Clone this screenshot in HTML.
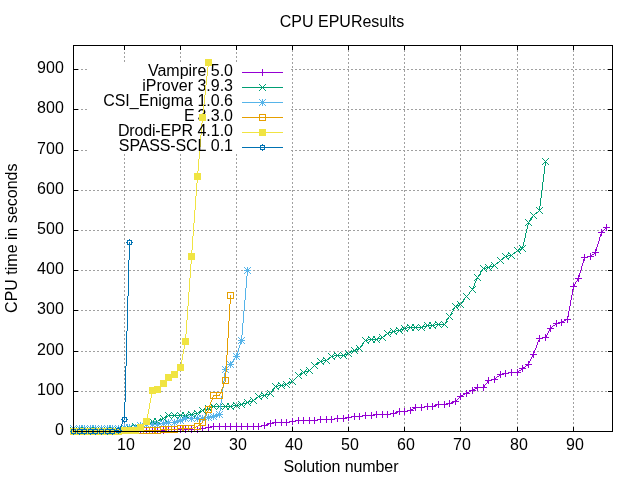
<!DOCTYPE html><html><head><meta charset="utf-8"><title>CPU EPUResults</title><style>html,body{margin:0;padding:0;background:#fff}svg{display:block;will-change:transform}text{font-family:"Liberation Sans",sans-serif;font-size:16px;fill:#000}</style></head><body>
<svg width="640" height="480" viewBox="0 0 640 480">
<rect width="640" height="480" fill="#fff"/>
<g stroke="#a0a0a0" stroke-width="1" stroke-dasharray="2 2" shape-rendering="crispEdges" fill="none">
<path d="M124.5 432V153"/><path d="M124.5 62V46"/>
<path d="M180.5 432V153"/><path d="M180.5 62V46"/>
<path d="M236.5 432V153"/><path d="M236.5 62V46"/>
<path d="M292.5 432V46"/>
<path d="M348.5 432V46"/>
<path d="M404.5 432V46"/>
<path d="M460.5 432V46"/>
<path d="M517.5 432V46"/>
<path d="M573.5 432V46"/>
<path d="M73 391.5H612"/>
<path d="M73 351.5H612"/>
<path d="M73 310.5H612"/>
<path d="M73 270.5H612"/>
<path d="M73 230.5H612"/>
<path d="M73 190.5H612"/>
<path d="M73 150.5H88"/><path d="M291 150.5H612"/>
<path d="M73 109.5H88"/><path d="M291 109.5H612"/>
<path d="M73 69.5H88"/><path d="M291 69.5H612"/>
</g>
<g stroke="#000" stroke-width="1" shape-rendering="crispEdges" fill="none">
<path d="M124.5 431v-4M124.5 46v4"/>
<path d="M180.5 431v-4M180.5 46v4"/>
<path d="M236.5 431v-4M236.5 46v4"/>
<path d="M292.5 431v-4M292.5 46v4"/>
<path d="M348.5 431v-4M348.5 46v4"/>
<path d="M404.5 431v-4M404.5 46v4"/>
<path d="M460.5 431v-4M460.5 46v4"/>
<path d="M517.5 431v-4M517.5 46v4"/>
<path d="M573.5 431v-4M573.5 46v4"/>
<path d="M74 431.5h4M612 431.5h-4"/>
<path d="M74 391.5h4M612 391.5h-4"/>
<path d="M74 351.5h4M612 351.5h-4"/>
<path d="M74 310.5h4M612 310.5h-4"/>
<path d="M74 270.5h4M612 270.5h-4"/>
<path d="M74 230.5h4M612 230.5h-4"/>
<path d="M74 190.5h4M612 190.5h-4"/>
<path d="M74 150.5h4M612 150.5h-4"/>
<path d="M74 109.5h4M612 109.5h-4"/>
<path d="M74 69.5h4M612 69.5h-4"/>
</g>
<g shape-rendering="crispEdges" fill="none" stroke-width="1">
<path d="M73 431.5h7M79 431.5h6M84 431.5h7M90 431.5h6M95 431.5h7M101 431.5h7M107 431.5h6M112 431.5h7M121 430.5h4M118 431.5h3M124 430.5h6M129 430.5h7M135 430.5h6M140 430.5h7M146 430.5h7M152 430.5h6M157 430.5h7M166 429.5h3M163 430.5h3M168 429.5h7M174 429.5h7M180 429.5h6M185 429.5h7M191 429.5h7M200 428.5h3M197 429.5h3M205 427.5h4M202 428.5h3M211 426.5h3M208 427.5h3M213 426.5h7M219 426.5h7M225 426.5h6M230 426.5h7M236 426.5h6M241 426.5h7M247 426.5h7M253 426.5h6M261 425.5h4M258 426.5h3M269 423.5h2M266 424.5h3M264 425.5h2M273 422.5h3M270 423.5h3M275 422.5h7M281 422.5h6M289 421.5h4M286 422.5h3M295 420.5h4M292 421.5h3M298 420.5h6M303 420.5h7M309 420.5h6M317 419.5h4M314 420.5h3M320 419.5h7M326 419.5h6M334 418.5h4M331 419.5h3M337 418.5h7M346 417.5h3M343 418.5h3M351 416.5h4M348 417.5h3M354 416.5h6M362 415.5h4M359 416.5h3M365 415.5h7M374 414.5h3M371 415.5h3M376 414.5h7M382 414.5h6M390 413.5h4M387 414.5h3M398 411.5h2M395 412.5h3M393 413.5h2M399 411.5h6M407 410.5h4M404 411.5h3M415 407.5h1M413 408.5h2M411 409.5h2M410 410.5h1M415 407.5h7M424 406.5h4M421 407.5h3M427 406.5h6M437 404.5h2M434 405.5h3M432 406.5h2M438 404.5h7M447 403.5h3M444 404.5h3M454 401.5h2M451 402.5h3M449 403.5h2M460 396.5h1M459 397.5h1M458 398.5h1M457 399.5h1M456 400.5h1M455 401.5h1M465 393.5h2M463 394.5h2M461 395.5h2M460 396.5h1M471 390.5h2M469 391.5h2M467 392.5h2M466 393.5h1M477 387.5h1M475 388.5h2M473 389.5h2M472 390.5h1M477 387.5h7M483.5 387v1M484.5 385v2M485.5 384v1M486.5 383v1M487.5 381v2M488.5 380v1M491 379.5h4M488 380.5h3M500 374.5h1M499 375.5h1M497 376.5h2M496 377.5h1M495 378.5h1M494 379.5h1M503 373.5h3M500 374.5h3M508 372.5h4M505 373.5h3M511 372.5h7M522 368.5h1M521 369.5h1M519 370.5h2M518 371.5h1M517 372.5h1M528 364.5h1M526 365.5h2M525 366.5h1M523 367.5h2M522 368.5h1M528.5 363v2M529.5 361v2M530.5 359v2M531.5 357v2M532.5 355v2M533.5 354v1M533.5 353v2M534.5 350v3M535.5 348v2M536.5 345v3M537.5 342v3M538.5 340v2M539.5 338v2M542 337.5h4M539 338.5h3M545.5 337v1M546.5 335v2M547.5 333v2M548.5 331v2M549.5 329v2M550.5 328v1M556 323.5h1M555 324.5h1M553 325.5h2M552 326.5h1M551 327.5h1M550 328.5h1M559 322.5h3M556 323.5h3M566 319.5h2M564 320.5h2M562 321.5h2M561 322.5h1M567.5 317v3M568.5 311v6M569.5 306v5M570.5 300v6M571.5 295v5M572.5 289v6M573.5 286v3M573.5 286v1M574.5 284v2M575.5 282v2M576.5 281v1M577.5 279v2M578.5 278v1M578.5 277v2M579.5 273v4M580.5 270v3M581.5 266v4M582.5 263v3M583.5 259v4M584.5 257v2M587 256.5h4M584 257.5h3M595 252.5h1M594 253.5h1M592 254.5h2M591 255.5h1M590 256.5h1M595.5 251v2M596.5 247v4M597.5 244v3M598.5 241v3M599.5 237v4M600.5 234v3M601.5 232v2M606 227.5h1M605 228.5h1M604 229.5h1M603 230.5h1M602 231.5h1M601 232.5h1" stroke="#9400D3"/>
<path d="M70.0 431.5H77.0M73.5 428.0V435.0" stroke="#9400D3"/>
<path d="M76.0 431.5H83.0M79.5 428.0V435.0" stroke="#9400D3"/>
<path d="M81.0 431.5H88.0M84.5 428.0V435.0" stroke="#9400D3"/>
<path d="M87.0 431.5H94.0M90.5 428.0V435.0" stroke="#9400D3"/>
<path d="M92.0 431.5H99.0M95.5 428.0V435.0" stroke="#9400D3"/>
<path d="M98.0 431.5H105.0M101.5 428.0V435.0" stroke="#9400D3"/>
<path d="M104.0 431.5H111.0M107.5 428.0V435.0" stroke="#9400D3"/>
<path d="M109.0 431.5H116.0M112.5 428.0V435.0" stroke="#9400D3"/>
<path d="M115.0 431.5H122.0M118.5 428.0V435.0" stroke="#9400D3"/>
<path d="M121.0 430.5H128.0M124.5 427.0V434.0" stroke="#9400D3"/>
<path d="M126.0 430.5H133.0M129.5 427.0V434.0" stroke="#9400D3"/>
<path d="M132.0 430.5H139.0M135.5 427.0V434.0" stroke="#9400D3"/>
<path d="M137.0 430.5H144.0M140.5 427.0V434.0" stroke="#9400D3"/>
<path d="M143.0 430.5H150.0M146.5 427.0V434.0" stroke="#9400D3"/>
<path d="M149.0 430.5H156.0M152.5 427.0V434.0" stroke="#9400D3"/>
<path d="M154.0 430.5H161.0M157.5 427.0V434.0" stroke="#9400D3"/>
<path d="M160.0 430.5H167.0M163.5 427.0V434.0" stroke="#9400D3"/>
<path d="M165.0 429.5H172.0M168.5 426.0V433.0" stroke="#9400D3"/>
<path d="M171.0 429.5H178.0M174.5 426.0V433.0" stroke="#9400D3"/>
<path d="M177.0 429.5H184.0M180.5 426.0V433.0" stroke="#9400D3"/>
<path d="M182.0 429.5H189.0M185.5 426.0V433.0" stroke="#9400D3"/>
<path d="M188.0 429.5H195.0M191.5 426.0V433.0" stroke="#9400D3"/>
<path d="M194.0 429.5H201.0M197.5 426.0V433.0" stroke="#9400D3"/>
<path d="M199.0 428.5H206.0M202.5 425.0V432.0" stroke="#9400D3"/>
<path d="M205.0 427.5H212.0M208.5 424.0V431.0" stroke="#9400D3"/>
<path d="M210.0 426.5H217.0M213.5 423.0V430.0" stroke="#9400D3"/>
<path d="M216.0 426.5H223.0M219.5 423.0V430.0" stroke="#9400D3"/>
<path d="M222.0 426.5H229.0M225.5 423.0V430.0" stroke="#9400D3"/>
<path d="M227.0 426.5H234.0M230.5 423.0V430.0" stroke="#9400D3"/>
<path d="M233.0 426.5H240.0M236.5 423.0V430.0" stroke="#9400D3"/>
<path d="M238.0 426.5H245.0M241.5 423.0V430.0" stroke="#9400D3"/>
<path d="M244.0 426.5H251.0M247.5 423.0V430.0" stroke="#9400D3"/>
<path d="M250.0 426.5H257.0M253.5 423.0V430.0" stroke="#9400D3"/>
<path d="M255.0 426.5H262.0M258.5 423.0V430.0" stroke="#9400D3"/>
<path d="M261.0 425.5H268.0M264.5 422.0V429.0" stroke="#9400D3"/>
<path d="M267.0 423.5H274.0M270.5 420.0V427.0" stroke="#9400D3"/>
<path d="M272.0 422.5H279.0M275.5 419.0V426.0" stroke="#9400D3"/>
<path d="M278.0 422.5H285.0M281.5 419.0V426.0" stroke="#9400D3"/>
<path d="M283.0 422.5H290.0M286.5 419.0V426.0" stroke="#9400D3"/>
<path d="M289.0 421.5H296.0M292.5 418.0V425.0" stroke="#9400D3"/>
<path d="M295.0 420.5H302.0M298.5 417.0V424.0" stroke="#9400D3"/>
<path d="M300.0 420.5H307.0M303.5 417.0V424.0" stroke="#9400D3"/>
<path d="M306.0 420.5H313.0M309.5 417.0V424.0" stroke="#9400D3"/>
<path d="M311.0 420.5H318.0M314.5 417.0V424.0" stroke="#9400D3"/>
<path d="M317.0 419.5H324.0M320.5 416.0V423.0" stroke="#9400D3"/>
<path d="M323.0 419.5H330.0M326.5 416.0V423.0" stroke="#9400D3"/>
<path d="M328.0 419.5H335.0M331.5 416.0V423.0" stroke="#9400D3"/>
<path d="M334.0 418.5H341.0M337.5 415.0V422.0" stroke="#9400D3"/>
<path d="M340.0 418.5H347.0M343.5 415.0V422.0" stroke="#9400D3"/>
<path d="M345.0 417.5H352.0M348.5 414.0V421.0" stroke="#9400D3"/>
<path d="M351.0 416.5H358.0M354.5 413.0V420.0" stroke="#9400D3"/>
<path d="M356.0 416.5H363.0M359.5 413.0V420.0" stroke="#9400D3"/>
<path d="M362.0 415.5H369.0M365.5 412.0V419.0" stroke="#9400D3"/>
<path d="M368.0 415.5H375.0M371.5 412.0V419.0" stroke="#9400D3"/>
<path d="M373.0 414.5H380.0M376.5 411.0V418.0" stroke="#9400D3"/>
<path d="M379.0 414.5H386.0M382.5 411.0V418.0" stroke="#9400D3"/>
<path d="M384.0 414.5H391.0M387.5 411.0V418.0" stroke="#9400D3"/>
<path d="M390.0 413.5H397.0M393.5 410.0V417.0" stroke="#9400D3"/>
<path d="M396.0 411.5H403.0M399.5 408.0V415.0" stroke="#9400D3"/>
<path d="M401.0 411.5H408.0M404.5 408.0V415.0" stroke="#9400D3"/>
<path d="M407.0 410.5H414.0M410.5 407.0V414.0" stroke="#9400D3"/>
<path d="M412.0 407.5H419.0M415.5 404.0V411.0" stroke="#9400D3"/>
<path d="M418.0 407.5H425.0M421.5 404.0V411.0" stroke="#9400D3"/>
<path d="M424.0 406.5H431.0M427.5 403.0V410.0" stroke="#9400D3"/>
<path d="M429.0 406.5H436.0M432.5 403.0V410.0" stroke="#9400D3"/>
<path d="M435.0 404.5H442.0M438.5 401.0V408.0" stroke="#9400D3"/>
<path d="M441.0 404.5H448.0M444.5 401.0V408.0" stroke="#9400D3"/>
<path d="M446.0 403.5H453.0M449.5 400.0V407.0" stroke="#9400D3"/>
<path d="M452.0 401.5H459.0M455.5 398.0V405.0" stroke="#9400D3"/>
<path d="M457.0 396.5H464.0M460.5 393.0V400.0" stroke="#9400D3"/>
<path d="M463.0 393.5H470.0M466.5 390.0V397.0" stroke="#9400D3"/>
<path d="M469.0 390.5H476.0M472.5 387.0V394.0" stroke="#9400D3"/>
<path d="M474.0 387.5H481.0M477.5 384.0V391.0" stroke="#9400D3"/>
<path d="M480.0 387.5H487.0M483.5 384.0V391.0" stroke="#9400D3"/>
<path d="M485.0 380.5H492.0M488.5 377.0V384.0" stroke="#9400D3"/>
<path d="M491.0 379.5H498.0M494.5 376.0V383.0" stroke="#9400D3"/>
<path d="M497.0 374.5H504.0M500.5 371.0V378.0" stroke="#9400D3"/>
<path d="M502.0 373.5H509.0M505.5 370.0V377.0" stroke="#9400D3"/>
<path d="M508.0 372.5H515.0M511.5 369.0V376.0" stroke="#9400D3"/>
<path d="M514.0 372.5H521.0M517.5 369.0V376.0" stroke="#9400D3"/>
<path d="M519.0 368.5H526.0M522.5 365.0V372.0" stroke="#9400D3"/>
<path d="M525.0 364.5H532.0M528.5 361.0V368.0" stroke="#9400D3"/>
<path d="M530.0 354.5H537.0M533.5 351.0V358.0" stroke="#9400D3"/>
<path d="M536.0 338.5H543.0M539.5 335.0V342.0" stroke="#9400D3"/>
<path d="M542.0 337.5H549.0M545.5 334.0V341.0" stroke="#9400D3"/>
<path d="M547.0 328.5H554.0M550.5 325.0V332.0" stroke="#9400D3"/>
<path d="M553.0 323.5H560.0M556.5 320.0V327.0" stroke="#9400D3"/>
<path d="M558.0 322.5H565.0M561.5 319.0V326.0" stroke="#9400D3"/>
<path d="M564.0 319.5H571.0M567.5 316.0V323.0" stroke="#9400D3"/>
<path d="M570.0 286.5H577.0M573.5 283.0V290.0" stroke="#9400D3"/>
<path d="M575.0 278.5H582.0M578.5 275.0V282.0" stroke="#9400D3"/>
<path d="M581.0 257.5H588.0M584.5 254.0V261.0" stroke="#9400D3"/>
<path d="M587.0 256.5H594.0M590.5 253.0V260.0" stroke="#9400D3"/>
<path d="M592.0 252.5H599.0M595.5 249.0V256.0" stroke="#9400D3"/>
<path d="M598.0 232.5H605.0M601.5 229.0V236.0" stroke="#9400D3"/>
<path d="M603.0 227.5H610.0M606.5 224.0V231.0" stroke="#9400D3"/>
<path d="M242 72.5H283" stroke="#9400D3"/>
<path d="M259.0 72.5H266.0M262.5 69.0V76.0" stroke="#9400D3"/>
</g>
<text x="233" y="76.0" text-anchor="end"><tspan letter-spacing="0">Vampire</tspan><tspan dx="0"> 5.0</tspan></text>
<g shape-rendering="crispEdges" fill="none" stroke-width="1">
<path d="M73 430.5h7M79 430.5h6M84 430.5h7M90 430.5h6M95 430.5h7M101 430.5h7M107 430.5h6M112 430.5h7M121 429.5h4M118 430.5h3M127 428.5h3M124 429.5h3M134 426.5h2M131 427.5h3M129 428.5h2M138 425.5h3M135 426.5h3M143 424.5h4M140 425.5h3M151 421.5h2M149 422.5h2M147 423.5h2M146 424.5h1M152 421.5h6M162 418.5h2M160 419.5h2M158 420.5h2M157 421.5h1M168 415.5h1M166 416.5h2M164 417.5h2M163 418.5h1M168 415.5h7M174 415.5h7M180 415.5h6M188 414.5h4M185 415.5h3M194 413.5h4M191 414.5h3M202 410.5h1M200 411.5h2M198 412.5h2M197 413.5h1M207 408.5h2M204 409.5h3M202 410.5h2M212 406.5h2M210 407.5h2M208 408.5h2M213 406.5h7M219 406.5h7M225 406.5h6M233 405.5h4M230 406.5h3M239 404.5h3M236 405.5h3M246 402.5h2M243 403.5h3M241 404.5h2M252 400.5h2M249 401.5h3M247 402.5h2M258 396.5h1M257 397.5h1M255 398.5h2M254 399.5h1M253 400.5h1M261 395.5h4M258 396.5h3M269 393.5h2M266 394.5h3M264 395.5h2M270.5 393v1M271.5 391v2M272.5 390v1M273.5 389v1M274.5 387v2M275.5 386v1M278 385.5h4M275 386.5h3M284 384.5h3M281 385.5h3M291 381.5h2M289 382.5h2M287 383.5h2M286 384.5h1M298 375.5h1M297 376.5h1M296 377.5h1M295 378.5h1M294 379.5h1M293 380.5h1M292 381.5h1M303 372.5h1M301 373.5h2M299 374.5h2M298 375.5h1M308 370.5h2M305 371.5h3M303 372.5h2M314 365.5h1M313 366.5h1M312 367.5h1M311 368.5h1M310 369.5h1M309 370.5h1M320 361.5h1M318 362.5h2M317 363.5h1M315 364.5h2M314 365.5h1M323 360.5h4M320 361.5h3M331 356.5h1M330 357.5h1M328 358.5h2M327 359.5h1M326 360.5h1M334 355.5h4M331 356.5h3M337 355.5h7M347 353.5h2M345 354.5h2M343 355.5h2M353 350.5h2M351 351.5h2M349 352.5h2M348 353.5h1M358 348.5h2M356 349.5h2M354 350.5h2M359.5 348v1M360.5 346v2M361.5 345v1M362.5 344v1M363.5 342v2M364.5 341v1M365.5 340v1M368 339.5h4M365 340.5h3M371 339.5h6M381 337.5h2M378 338.5h3M376 339.5h2M387 333.5h1M386 334.5h1M384 335.5h2M383 336.5h1M382 337.5h1M392 331.5h2M389 332.5h3M387 333.5h2M396 330.5h4M393 331.5h3M403 328.5h2M401 329.5h2M399 330.5h2M407 327.5h4M404 328.5h3M410 327.5h6M415 327.5h7M426 325.5h2M423 326.5h3M421 327.5h2M427 325.5h6M435 324.5h4M432 325.5h3M438 324.5h7M444.5 324v1M445.5 322v2M446.5 320v2M447.5 319v1M448.5 317v2M449.5 316v1M449.5 316v1M450.5 314v2M451.5 312v2M452.5 311v1M453.5 309v2M454.5 307v2M455.5 306v1M459 304.5h2M457 305.5h2M455 306.5h2M460.5 304v1M461.5 302v2M462.5 301v1M463.5 300v1M464.5 298v2M465.5 297v1M466.5 296v1M466.5 296v1M467.5 295v1M468.5 294v1M469.5 292v2M470.5 291v1M471.5 290v1M472.5 289v1M472.5 288v2M473.5 286v2M474.5 283v3M475.5 281v2M476.5 279v2M477.5 277v2M477.5 277v1M478.5 275v2M479.5 274v1M480.5 272v2M481.5 271v1M482.5 269v2M483.5 268v1M486 267.5h3M483 268.5h3M493 265.5h2M490 266.5h3M488 267.5h2M500 260.5h1M499 261.5h1M497 262.5h2M496 263.5h1M495 264.5h1M494 265.5h1M505 256.5h1M504 257.5h1M502 258.5h2M501 259.5h1M500 260.5h1M508 255.5h4M505 256.5h3M517 250.5h1M516 251.5h1M514 252.5h2M513 253.5h1M512 254.5h1M511 255.5h1M521 248.5h2M519 249.5h2M517 250.5h2M522.5 246v3M523.5 242v4M524.5 238v4M525.5 233v5M526.5 229v4M527.5 225v4M528.5 222v3M528.5 222v1M529.5 220v2M530.5 219v1M531.5 218v1M532.5 216v2M533.5 215v1M539 210.5h1M538 211.5h1M536 212.5h2M535 213.5h1M534 214.5h1M533 215.5h1M539.5 206v5M540.5 198v8M541.5 190v8M542.5 182v8M543.5 174v8M544.5 166v8M545.5 161v5" stroke="#009E73"/>
<path d="M70.0 427.0L77.0 434.0M70.0 434.0L77.0 427.0" stroke="#009E73"/>
<path d="M76.0 427.0L83.0 434.0M76.0 434.0L83.0 427.0" stroke="#009E73"/>
<path d="M81.0 427.0L88.0 434.0M81.0 434.0L88.0 427.0" stroke="#009E73"/>
<path d="M87.0 427.0L94.0 434.0M87.0 434.0L94.0 427.0" stroke="#009E73"/>
<path d="M92.0 427.0L99.0 434.0M92.0 434.0L99.0 427.0" stroke="#009E73"/>
<path d="M98.0 427.0L105.0 434.0M98.0 434.0L105.0 427.0" stroke="#009E73"/>
<path d="M104.0 427.0L111.0 434.0M104.0 434.0L111.0 427.0" stroke="#009E73"/>
<path d="M109.0 427.0L116.0 434.0M109.0 434.0L116.0 427.0" stroke="#009E73"/>
<path d="M115.0 427.0L122.0 434.0M115.0 434.0L122.0 427.0" stroke="#009E73"/>
<path d="M121.0 426.0L128.0 433.0M121.0 433.0L128.0 426.0" stroke="#009E73"/>
<path d="M126.0 425.0L133.0 432.0M126.0 432.0L133.0 425.0" stroke="#009E73"/>
<path d="M132.0 423.0L139.0 430.0M132.0 430.0L139.0 423.0" stroke="#009E73"/>
<path d="M137.0 422.0L144.0 429.0M137.0 429.0L144.0 422.0" stroke="#009E73"/>
<path d="M143.0 421.0L150.0 428.0M143.0 428.0L150.0 421.0" stroke="#009E73"/>
<path d="M149.0 418.0L156.0 425.0M149.0 425.0L156.0 418.0" stroke="#009E73"/>
<path d="M154.0 418.0L161.0 425.0M154.0 425.0L161.0 418.0" stroke="#009E73"/>
<path d="M160.0 415.0L167.0 422.0M160.0 422.0L167.0 415.0" stroke="#009E73"/>
<path d="M165.0 412.0L172.0 419.0M165.0 419.0L172.0 412.0" stroke="#009E73"/>
<path d="M171.0 412.0L178.0 419.0M171.0 419.0L178.0 412.0" stroke="#009E73"/>
<path d="M177.0 412.0L184.0 419.0M177.0 419.0L184.0 412.0" stroke="#009E73"/>
<path d="M182.0 412.0L189.0 419.0M182.0 419.0L189.0 412.0" stroke="#009E73"/>
<path d="M188.0 411.0L195.0 418.0M188.0 418.0L195.0 411.0" stroke="#009E73"/>
<path d="M194.0 410.0L201.0 417.0M194.0 417.0L201.0 410.0" stroke="#009E73"/>
<path d="M199.0 407.0L206.0 414.0M199.0 414.0L206.0 407.0" stroke="#009E73"/>
<path d="M205.0 405.0L212.0 412.0M205.0 412.0L212.0 405.0" stroke="#009E73"/>
<path d="M210.0 403.0L217.0 410.0M210.0 410.0L217.0 403.0" stroke="#009E73"/>
<path d="M216.0 403.0L223.0 410.0M216.0 410.0L223.0 403.0" stroke="#009E73"/>
<path d="M222.0 403.0L229.0 410.0M222.0 410.0L229.0 403.0" stroke="#009E73"/>
<path d="M227.0 403.0L234.0 410.0M227.0 410.0L234.0 403.0" stroke="#009E73"/>
<path d="M233.0 402.0L240.0 409.0M233.0 409.0L240.0 402.0" stroke="#009E73"/>
<path d="M238.0 401.0L245.0 408.0M238.0 408.0L245.0 401.0" stroke="#009E73"/>
<path d="M244.0 399.0L251.0 406.0M244.0 406.0L251.0 399.0" stroke="#009E73"/>
<path d="M250.0 397.0L257.0 404.0M250.0 404.0L257.0 397.0" stroke="#009E73"/>
<path d="M255.0 393.0L262.0 400.0M255.0 400.0L262.0 393.0" stroke="#009E73"/>
<path d="M261.0 392.0L268.0 399.0M261.0 399.0L268.0 392.0" stroke="#009E73"/>
<path d="M267.0 390.0L274.0 397.0M267.0 397.0L274.0 390.0" stroke="#009E73"/>
<path d="M272.0 383.0L279.0 390.0M272.0 390.0L279.0 383.0" stroke="#009E73"/>
<path d="M278.0 382.0L285.0 389.0M278.0 389.0L285.0 382.0" stroke="#009E73"/>
<path d="M283.0 381.0L290.0 388.0M283.0 388.0L290.0 381.0" stroke="#009E73"/>
<path d="M289.0 378.0L296.0 385.0M289.0 385.0L296.0 378.0" stroke="#009E73"/>
<path d="M295.0 372.0L302.0 379.0M295.0 379.0L302.0 372.0" stroke="#009E73"/>
<path d="M300.0 369.0L307.0 376.0M300.0 376.0L307.0 369.0" stroke="#009E73"/>
<path d="M306.0 367.0L313.0 374.0M306.0 374.0L313.0 367.0" stroke="#009E73"/>
<path d="M311.0 362.0L318.0 369.0M311.0 369.0L318.0 362.0" stroke="#009E73"/>
<path d="M317.0 358.0L324.0 365.0M317.0 365.0L324.0 358.0" stroke="#009E73"/>
<path d="M323.0 357.0L330.0 364.0M323.0 364.0L330.0 357.0" stroke="#009E73"/>
<path d="M328.0 353.0L335.0 360.0M328.0 360.0L335.0 353.0" stroke="#009E73"/>
<path d="M334.0 352.0L341.0 359.0M334.0 359.0L341.0 352.0" stroke="#009E73"/>
<path d="M340.0 352.0L347.0 359.0M340.0 359.0L347.0 352.0" stroke="#009E73"/>
<path d="M345.0 350.0L352.0 357.0M345.0 357.0L352.0 350.0" stroke="#009E73"/>
<path d="M351.0 347.0L358.0 354.0M351.0 354.0L358.0 347.0" stroke="#009E73"/>
<path d="M356.0 345.0L363.0 352.0M356.0 352.0L363.0 345.0" stroke="#009E73"/>
<path d="M362.0 337.0L369.0 344.0M362.0 344.0L369.0 337.0" stroke="#009E73"/>
<path d="M368.0 336.0L375.0 343.0M368.0 343.0L375.0 336.0" stroke="#009E73"/>
<path d="M373.0 336.0L380.0 343.0M373.0 343.0L380.0 336.0" stroke="#009E73"/>
<path d="M379.0 334.0L386.0 341.0M379.0 341.0L386.0 334.0" stroke="#009E73"/>
<path d="M384.0 330.0L391.0 337.0M384.0 337.0L391.0 330.0" stroke="#009E73"/>
<path d="M390.0 328.0L397.0 335.0M390.0 335.0L397.0 328.0" stroke="#009E73"/>
<path d="M396.0 327.0L403.0 334.0M396.0 334.0L403.0 327.0" stroke="#009E73"/>
<path d="M401.0 325.0L408.0 332.0M401.0 332.0L408.0 325.0" stroke="#009E73"/>
<path d="M407.0 324.0L414.0 331.0M407.0 331.0L414.0 324.0" stroke="#009E73"/>
<path d="M412.0 324.0L419.0 331.0M412.0 331.0L419.0 324.0" stroke="#009E73"/>
<path d="M418.0 324.0L425.0 331.0M418.0 331.0L425.0 324.0" stroke="#009E73"/>
<path d="M424.0 322.0L431.0 329.0M424.0 329.0L431.0 322.0" stroke="#009E73"/>
<path d="M429.0 322.0L436.0 329.0M429.0 329.0L436.0 322.0" stroke="#009E73"/>
<path d="M435.0 321.0L442.0 328.0M435.0 328.0L442.0 321.0" stroke="#009E73"/>
<path d="M441.0 321.0L448.0 328.0M441.0 328.0L448.0 321.0" stroke="#009E73"/>
<path d="M446.0 313.0L453.0 320.0M446.0 320.0L453.0 313.0" stroke="#009E73"/>
<path d="M452.0 303.0L459.0 310.0M452.0 310.0L459.0 303.0" stroke="#009E73"/>
<path d="M457.0 301.0L464.0 308.0M457.0 308.0L464.0 301.0" stroke="#009E73"/>
<path d="M463.0 293.0L470.0 300.0M463.0 300.0L470.0 293.0" stroke="#009E73"/>
<path d="M469.0 286.0L476.0 293.0M469.0 293.0L476.0 286.0" stroke="#009E73"/>
<path d="M474.0 274.0L481.0 281.0M474.0 281.0L481.0 274.0" stroke="#009E73"/>
<path d="M480.0 265.0L487.0 272.0M480.0 272.0L487.0 265.0" stroke="#009E73"/>
<path d="M485.0 264.0L492.0 271.0M485.0 271.0L492.0 264.0" stroke="#009E73"/>
<path d="M491.0 262.0L498.0 269.0M491.0 269.0L498.0 262.0" stroke="#009E73"/>
<path d="M497.0 257.0L504.0 264.0M497.0 264.0L504.0 257.0" stroke="#009E73"/>
<path d="M502.0 253.0L509.0 260.0M502.0 260.0L509.0 253.0" stroke="#009E73"/>
<path d="M508.0 252.0L515.0 259.0M508.0 259.0L515.0 252.0" stroke="#009E73"/>
<path d="M514.0 247.0L521.0 254.0M514.0 254.0L521.0 247.0" stroke="#009E73"/>
<path d="M519.0 245.0L526.0 252.0M519.0 252.0L526.0 245.0" stroke="#009E73"/>
<path d="M525.0 219.0L532.0 226.0M525.0 226.0L532.0 219.0" stroke="#009E73"/>
<path d="M530.0 212.0L537.0 219.0M530.0 219.0L537.0 212.0" stroke="#009E73"/>
<path d="M536.0 207.0L543.0 214.0M536.0 214.0L543.0 207.0" stroke="#009E73"/>
<path d="M542.0 158.0L549.0 165.0M542.0 165.0L549.0 158.0" stroke="#009E73"/>
<path d="M242 87.5H283" stroke="#009E73"/>
<path d="M259.0 84.0L266.0 91.0M259.0 91.0L266.0 84.0" stroke="#009E73"/>
</g>
<text x="233" y="91.0" text-anchor="end"><tspan letter-spacing="0">iProver</tspan><tspan dx="0"> 3.9.3</tspan></text>
<g shape-rendering="crispEdges" fill="none" stroke-width="1">
<path d="M73 428.5h7M79 428.5h6M84 428.5h7M90 428.5h6M95 428.5h7M101 428.5h7M107 428.5h6M112 428.5h7M121 427.5h4M118 428.5h3M124 427.5h6M129 427.5h7M139 425.5h2M137 426.5h2M135 427.5h2M143 424.5h4M140 425.5h3M146 424.5h7M152 424.5h6M160 423.5h4M157 424.5h3M166 422.5h3M163 423.5h3M168 422.5h7M179 420.5h2M176 421.5h3M174 422.5h2M184 418.5h2M182 419.5h2M180 420.5h2M185 418.5h7M191 418.5h7M197 418.5h6M205 417.5h4M202 418.5h3M211 416.5h3M208 417.5h3M218 414.5h2M215 415.5h3M213 416.5h2M219.5 411v4M220.5 403v8M221.5 396v7M222.5 388v8M223.5 381v7M224.5 373v8M225.5 369v4M230 364.5h1M229 365.5h1M228 366.5h1M227 367.5h1M226 368.5h1M225 369.5h1M230.5 364v1M231.5 362v2M232.5 361v1M233.5 360v1M234.5 358v2M235.5 357v1M236.5 356v1M236.5 355v2M237.5 352v3M238.5 348v4M239.5 345v3M240.5 342v3M241.5 340v2M241.5 335v6M242.5 323v12M243.5 311v12M244.5 300v11M245.5 288v12M246.5 276v12M247.5 270v6" stroke="#56B4E9"/>
<path d="M70.0 428.5H77.0M73.5 425.0V432.0" stroke="#56B4E9"/><path d="M70.0 425.0L77.0 432.0M70.0 432.0L77.0 425.0" stroke="#56B4E9"/>
<path d="M76.0 428.5H83.0M79.5 425.0V432.0" stroke="#56B4E9"/><path d="M76.0 425.0L83.0 432.0M76.0 432.0L83.0 425.0" stroke="#56B4E9"/>
<path d="M81.0 428.5H88.0M84.5 425.0V432.0" stroke="#56B4E9"/><path d="M81.0 425.0L88.0 432.0M81.0 432.0L88.0 425.0" stroke="#56B4E9"/>
<path d="M87.0 428.5H94.0M90.5 425.0V432.0" stroke="#56B4E9"/><path d="M87.0 425.0L94.0 432.0M87.0 432.0L94.0 425.0" stroke="#56B4E9"/>
<path d="M92.0 428.5H99.0M95.5 425.0V432.0" stroke="#56B4E9"/><path d="M92.0 425.0L99.0 432.0M92.0 432.0L99.0 425.0" stroke="#56B4E9"/>
<path d="M98.0 428.5H105.0M101.5 425.0V432.0" stroke="#56B4E9"/><path d="M98.0 425.0L105.0 432.0M98.0 432.0L105.0 425.0" stroke="#56B4E9"/>
<path d="M104.0 428.5H111.0M107.5 425.0V432.0" stroke="#56B4E9"/><path d="M104.0 425.0L111.0 432.0M104.0 432.0L111.0 425.0" stroke="#56B4E9"/>
<path d="M109.0 428.5H116.0M112.5 425.0V432.0" stroke="#56B4E9"/><path d="M109.0 425.0L116.0 432.0M109.0 432.0L116.0 425.0" stroke="#56B4E9"/>
<path d="M115.0 428.5H122.0M118.5 425.0V432.0" stroke="#56B4E9"/><path d="M115.0 425.0L122.0 432.0M115.0 432.0L122.0 425.0" stroke="#56B4E9"/>
<path d="M121.0 427.5H128.0M124.5 424.0V431.0" stroke="#56B4E9"/><path d="M121.0 424.0L128.0 431.0M121.0 431.0L128.0 424.0" stroke="#56B4E9"/>
<path d="M126.0 427.5H133.0M129.5 424.0V431.0" stroke="#56B4E9"/><path d="M126.0 424.0L133.0 431.0M126.0 431.0L133.0 424.0" stroke="#56B4E9"/>
<path d="M132.0 427.5H139.0M135.5 424.0V431.0" stroke="#56B4E9"/><path d="M132.0 424.0L139.0 431.0M132.0 431.0L139.0 424.0" stroke="#56B4E9"/>
<path d="M137.0 425.5H144.0M140.5 422.0V429.0" stroke="#56B4E9"/><path d="M137.0 422.0L144.0 429.0M137.0 429.0L144.0 422.0" stroke="#56B4E9"/>
<path d="M143.0 424.5H150.0M146.5 421.0V428.0" stroke="#56B4E9"/><path d="M143.0 421.0L150.0 428.0M143.0 428.0L150.0 421.0" stroke="#56B4E9"/>
<path d="M149.0 424.5H156.0M152.5 421.0V428.0" stroke="#56B4E9"/><path d="M149.0 421.0L156.0 428.0M149.0 428.0L156.0 421.0" stroke="#56B4E9"/>
<path d="M154.0 424.5H161.0M157.5 421.0V428.0" stroke="#56B4E9"/><path d="M154.0 421.0L161.0 428.0M154.0 428.0L161.0 421.0" stroke="#56B4E9"/>
<path d="M160.0 423.5H167.0M163.5 420.0V427.0" stroke="#56B4E9"/><path d="M160.0 420.0L167.0 427.0M160.0 427.0L167.0 420.0" stroke="#56B4E9"/>
<path d="M165.0 422.5H172.0M168.5 419.0V426.0" stroke="#56B4E9"/><path d="M165.0 419.0L172.0 426.0M165.0 426.0L172.0 419.0" stroke="#56B4E9"/>
<path d="M171.0 422.5H178.0M174.5 419.0V426.0" stroke="#56B4E9"/><path d="M171.0 419.0L178.0 426.0M171.0 426.0L178.0 419.0" stroke="#56B4E9"/>
<path d="M177.0 420.5H184.0M180.5 417.0V424.0" stroke="#56B4E9"/><path d="M177.0 417.0L184.0 424.0M177.0 424.0L184.0 417.0" stroke="#56B4E9"/>
<path d="M182.0 418.5H189.0M185.5 415.0V422.0" stroke="#56B4E9"/><path d="M182.0 415.0L189.0 422.0M182.0 422.0L189.0 415.0" stroke="#56B4E9"/>
<path d="M188.0 418.5H195.0M191.5 415.0V422.0" stroke="#56B4E9"/><path d="M188.0 415.0L195.0 422.0M188.0 422.0L195.0 415.0" stroke="#56B4E9"/>
<path d="M194.0 418.5H201.0M197.5 415.0V422.0" stroke="#56B4E9"/><path d="M194.0 415.0L201.0 422.0M194.0 422.0L201.0 415.0" stroke="#56B4E9"/>
<path d="M199.0 418.5H206.0M202.5 415.0V422.0" stroke="#56B4E9"/><path d="M199.0 415.0L206.0 422.0M199.0 422.0L206.0 415.0" stroke="#56B4E9"/>
<path d="M205.0 417.5H212.0M208.5 414.0V421.0" stroke="#56B4E9"/><path d="M205.0 414.0L212.0 421.0M205.0 421.0L212.0 414.0" stroke="#56B4E9"/>
<path d="M210.0 416.5H217.0M213.5 413.0V420.0" stroke="#56B4E9"/><path d="M210.0 413.0L217.0 420.0M210.0 420.0L217.0 413.0" stroke="#56B4E9"/>
<path d="M216.0 414.5H223.0M219.5 411.0V418.0" stroke="#56B4E9"/><path d="M216.0 411.0L223.0 418.0M216.0 418.0L223.0 411.0" stroke="#56B4E9"/>
<path d="M222.0 369.5H229.0M225.5 366.0V373.0" stroke="#56B4E9"/><path d="M222.0 366.0L229.0 373.0M222.0 373.0L229.0 366.0" stroke="#56B4E9"/>
<path d="M227.0 364.5H234.0M230.5 361.0V368.0" stroke="#56B4E9"/><path d="M227.0 361.0L234.0 368.0M227.0 368.0L234.0 361.0" stroke="#56B4E9"/>
<path d="M233.0 356.5H240.0M236.5 353.0V360.0" stroke="#56B4E9"/><path d="M233.0 353.0L240.0 360.0M233.0 360.0L240.0 353.0" stroke="#56B4E9"/>
<path d="M238.0 340.5H245.0M241.5 337.0V344.0" stroke="#56B4E9"/><path d="M238.0 337.0L245.0 344.0M238.0 344.0L245.0 337.0" stroke="#56B4E9"/>
<path d="M244.0 270.5H251.0M247.5 267.0V274.0" stroke="#56B4E9"/><path d="M244.0 267.0L251.0 274.0M244.0 274.0L251.0 267.0" stroke="#56B4E9"/>
<path d="M242 102.5H283" stroke="#56B4E9"/>
<path d="M259.0 102.5H266.0M262.5 99.0V106.0" stroke="#56B4E9"/><path d="M259.0 99.0L266.0 106.0M259.0 106.0L266.0 99.0" stroke="#56B4E9"/>
</g>
<text x="233" y="106.0" text-anchor="end"><tspan letter-spacing="0">CSI_Enigma</tspan><tspan dx="0"> 1.0.6</tspan></text>
<g shape-rendering="crispEdges" fill="none" stroke-width="1">
<path d="M73 431.5h7M79 431.5h6M84 431.5h7M90 431.5h6M95 431.5h7M101 431.5h7M107 431.5h6M112 431.5h7M121 430.5h4M118 431.5h3M124 430.5h6M129 430.5h7M135 430.5h6M140 430.5h7M146 430.5h7M152 430.5h6M160 429.5h4M157 430.5h3M163 429.5h6M168 429.5h7M177 428.5h4M174 429.5h3M180 428.5h6M185 428.5h7M196 426.5h2M193 427.5h3M191 428.5h2M202 422.5h1M201 423.5h1M199 424.5h2M198 425.5h1M197 426.5h1M202.5 421v2M203.5 419v2M204.5 417v2M205.5 415v2M206.5 413v2M207.5 411v2M208.5 409v2M208.5 408v2M209.5 405v3M210.5 402v3M211.5 400v2M212.5 397v3M213.5 395v2M213 395.5h7M219.5 394v2M220.5 392v2M221.5 389v3M222.5 387v2M223.5 384v3M224.5 382v2M225.5 380v2M225.5 372v9M226.5 355v17M227.5 338v17M228.5 321v17M229.5 304v17M230.5 295v9" stroke="#E69F00"/>
<rect x="70.5" y="428.5" width="6" height="6" fill="none" stroke="#E69F00"/>
<rect x="76.5" y="428.5" width="6" height="6" fill="none" stroke="#E69F00"/>
<rect x="81.5" y="428.5" width="6" height="6" fill="none" stroke="#E69F00"/>
<rect x="87.5" y="428.5" width="6" height="6" fill="none" stroke="#E69F00"/>
<rect x="92.5" y="428.5" width="6" height="6" fill="none" stroke="#E69F00"/>
<rect x="98.5" y="428.5" width="6" height="6" fill="none" stroke="#E69F00"/>
<rect x="104.5" y="428.5" width="6" height="6" fill="none" stroke="#E69F00"/>
<rect x="109.5" y="428.5" width="6" height="6" fill="none" stroke="#E69F00"/>
<rect x="115.5" y="428.5" width="6" height="6" fill="none" stroke="#E69F00"/>
<rect x="121.5" y="427.5" width="6" height="6" fill="none" stroke="#E69F00"/>
<rect x="126.5" y="427.5" width="6" height="6" fill="none" stroke="#E69F00"/>
<rect x="132.5" y="427.5" width="6" height="6" fill="none" stroke="#E69F00"/>
<rect x="137.5" y="427.5" width="6" height="6" fill="none" stroke="#E69F00"/>
<rect x="143.5" y="427.5" width="6" height="6" fill="none" stroke="#E69F00"/>
<rect x="149.5" y="427.5" width="6" height="6" fill="none" stroke="#E69F00"/>
<rect x="154.5" y="427.5" width="6" height="6" fill="none" stroke="#E69F00"/>
<rect x="160.5" y="426.5" width="6" height="6" fill="none" stroke="#E69F00"/>
<rect x="165.5" y="426.5" width="6" height="6" fill="none" stroke="#E69F00"/>
<rect x="171.5" y="426.5" width="6" height="6" fill="none" stroke="#E69F00"/>
<rect x="177.5" y="425.5" width="6" height="6" fill="none" stroke="#E69F00"/>
<rect x="182.5" y="425.5" width="6" height="6" fill="none" stroke="#E69F00"/>
<rect x="188.5" y="425.5" width="6" height="6" fill="none" stroke="#E69F00"/>
<rect x="194.5" y="423.5" width="6" height="6" fill="none" stroke="#E69F00"/>
<rect x="199.5" y="419.5" width="6" height="6" fill="none" stroke="#E69F00"/>
<rect x="205.5" y="406.5" width="6" height="6" fill="none" stroke="#E69F00"/>
<rect x="210.5" y="392.5" width="6" height="6" fill="none" stroke="#E69F00"/>
<rect x="216.5" y="392.5" width="6" height="6" fill="none" stroke="#E69F00"/>
<rect x="222.5" y="377.5" width="6" height="6" fill="none" stroke="#E69F00"/>
<rect x="227.5" y="292.5" width="6" height="6" fill="none" stroke="#E69F00"/>
<path d="M242 117.5H283" stroke="#E69F00"/>
<rect x="259.5" y="114.5" width="6" height="6" fill="none" stroke="#E69F00"/>
</g>
<text x="233" y="121.0" text-anchor="end"><tspan letter-spacing="0">E</tspan><tspan dx="-1.7"> 3.3.0</tspan></text>
<g shape-rendering="crispEdges" fill="none" stroke-width="1">
<path d="M73 431.5h7M79 431.5h6M84 431.5h7M90 431.5h6M95 431.5h7M101 431.5h7M107 431.5h6M112 431.5h7M121 430.5h4M118 431.5h3M124 430.5h6M129 430.5h7M140 427.5h1M138 428.5h2M136 429.5h2M135 430.5h1M146 421.5h1M145 422.5h1M144 423.5h1M143 424.5h1M142 425.5h1M141 426.5h1M140 427.5h1M146.5 419v3M147.5 414v5M148.5 409v5M149.5 403v6M150.5 398v5M151.5 393v5M152.5 390v3M155 389.5h3M152 390.5h3M163 383.5h1M162 384.5h1M161 385.5h1M160 386.5h1M159 387.5h1M158 388.5h1M157 389.5h1M163.5 383v1M164.5 382v1M165.5 380v2M166.5 379v1M167.5 378v1M168.5 377v1M173 374.5h2M171 375.5h2M169 376.5h2M168 377.5h1M174.5 374v1M175.5 373v1M176.5 372v1M177.5 370v2M178.5 369v1M179.5 368v1M180.5 367v1M180.5 365v3M181.5 360v5M182.5 354v6M183.5 349v5M184.5 344v5M185.5 341v3M185.5 334v8M186.5 320v14M187.5 306v14M188.5 292v14M189.5 278v14M190.5 264v14M191.5 256v8M191.5 250v7M192.5 236v14M193.5 223v13M194.5 210v13M195.5 196v14M196.5 183v13M197.5 176v7M197.5 171v6M198.5 159v12M199.5 147v12M200.5 135v12M201.5 123v12M202.5 117v6M202.5 113v5M203.5 104v9M204.5 95v9M205.5 85v10M206.5 76v9M207.5 67v9M208.5 62v5" stroke="#F0E442"/>
<rect x="70.0" y="428.0" width="7" height="7" fill="#F0E442"/>
<rect x="76.0" y="428.0" width="7" height="7" fill="#F0E442"/>
<rect x="81.0" y="428.0" width="7" height="7" fill="#F0E442"/>
<rect x="87.0" y="428.0" width="7" height="7" fill="#F0E442"/>
<rect x="92.0" y="428.0" width="7" height="7" fill="#F0E442"/>
<rect x="98.0" y="428.0" width="7" height="7" fill="#F0E442"/>
<rect x="104.0" y="428.0" width="7" height="7" fill="#F0E442"/>
<rect x="109.0" y="428.0" width="7" height="7" fill="#F0E442"/>
<rect x="115.0" y="428.0" width="7" height="7" fill="#F0E442"/>
<rect x="121.0" y="427.0" width="7" height="7" fill="#F0E442"/>
<rect x="126.0" y="427.0" width="7" height="7" fill="#F0E442"/>
<rect x="132.0" y="427.0" width="7" height="7" fill="#F0E442"/>
<rect x="137.0" y="424.0" width="7" height="7" fill="#F0E442"/>
<rect x="143.0" y="418.0" width="7" height="7" fill="#F0E442"/>
<rect x="149.0" y="387.0" width="7" height="7" fill="#F0E442"/>
<rect x="154.0" y="386.0" width="7" height="7" fill="#F0E442"/>
<rect x="160.0" y="380.0" width="7" height="7" fill="#F0E442"/>
<rect x="165.0" y="374.0" width="7" height="7" fill="#F0E442"/>
<rect x="171.0" y="371.0" width="7" height="7" fill="#F0E442"/>
<rect x="177.0" y="364.0" width="7" height="7" fill="#F0E442"/>
<rect x="182.0" y="338.0" width="7" height="7" fill="#F0E442"/>
<rect x="188.0" y="253.0" width="7" height="7" fill="#F0E442"/>
<rect x="194.0" y="173.0" width="7" height="7" fill="#F0E442"/>
<rect x="199.0" y="114.0" width="7" height="7" fill="#F0E442"/>
<rect x="205.0" y="59.0" width="7" height="7" fill="#F0E442"/>
<path d="M242 132.5H283" stroke="#F0E442"/>
<rect x="259.0" y="129.0" width="7" height="7" fill="#F0E442"/>
</g>
<text x="233" y="136.0" text-anchor="end"><tspan letter-spacing="-0.16">Drodi-EPR</tspan><tspan dx="0"> 4.1.0</tspan></text>
<g shape-rendering="crispEdges" fill="none" stroke-width="1">
<path d="M73 431.5h7M79 431.5h6M84 431.5h7M90 431.5h6M95 431.5h7M101 431.5h7M107 431.5h6M115 430.5h4M112 431.5h3M118.5 430v1M119.5 428v2M120.5 426v2M121.5 424v2M122.5 422v2M123.5 420v2M124.5 419v1M124.5 402v18M125.5 366v36M126.5 331v35M127.5 296v35M128.5 260v36M129.5 242v18" stroke="#0072B2"/>
<rect x="71.5" y="429.5" width="4" height="4" fill="none" stroke="#0072B2"/><path d="M70.0 431.5h1M76.0 431.5h1M73.5 428.0v1M73.5 434.0v1" stroke="#0072B2"/>
<rect x="77.5" y="429.5" width="4" height="4" fill="none" stroke="#0072B2"/><path d="M76.0 431.5h1M82.0 431.5h1M79.5 428.0v1M79.5 434.0v1" stroke="#0072B2"/>
<rect x="82.5" y="429.5" width="4" height="4" fill="none" stroke="#0072B2"/><path d="M81.0 431.5h1M87.0 431.5h1M84.5 428.0v1M84.5 434.0v1" stroke="#0072B2"/>
<rect x="88.5" y="429.5" width="4" height="4" fill="none" stroke="#0072B2"/><path d="M87.0 431.5h1M93.0 431.5h1M90.5 428.0v1M90.5 434.0v1" stroke="#0072B2"/>
<rect x="93.5" y="429.5" width="4" height="4" fill="none" stroke="#0072B2"/><path d="M92.0 431.5h1M98.0 431.5h1M95.5 428.0v1M95.5 434.0v1" stroke="#0072B2"/>
<rect x="99.5" y="429.5" width="4" height="4" fill="none" stroke="#0072B2"/><path d="M98.0 431.5h1M104.0 431.5h1M101.5 428.0v1M101.5 434.0v1" stroke="#0072B2"/>
<rect x="105.5" y="429.5" width="4" height="4" fill="none" stroke="#0072B2"/><path d="M104.0 431.5h1M110.0 431.5h1M107.5 428.0v1M107.5 434.0v1" stroke="#0072B2"/>
<rect x="110.5" y="429.5" width="4" height="4" fill="none" stroke="#0072B2"/><path d="M109.0 431.5h1M115.0 431.5h1M112.5 428.0v1M112.5 434.0v1" stroke="#0072B2"/>
<rect x="116.5" y="428.5" width="4" height="4" fill="none" stroke="#0072B2"/><path d="M115.0 430.5h1M121.0 430.5h1M118.5 427.0v1M118.5 433.0v1" stroke="#0072B2"/>
<rect x="122.5" y="417.5" width="4" height="4" fill="none" stroke="#0072B2"/><path d="M121.0 419.5h1M127.0 419.5h1M124.5 416.0v1M124.5 422.0v1" stroke="#0072B2"/>
<rect x="127.5" y="240.5" width="4" height="4" fill="none" stroke="#0072B2"/><path d="M126.0 242.5h1M132.0 242.5h1M129.5 239.0v1M129.5 245.0v1" stroke="#0072B2"/>
<path d="M242 147.5H283" stroke="#0072B2"/>
<rect x="260.5" y="145.5" width="4" height="4" fill="none" stroke="#0072B2"/><path d="M259.0 147.5h1M265.0 147.5h1M262.5 144.0v1M262.5 150.0v1" stroke="#0072B2"/>
</g>
<text x="233" y="151.0" text-anchor="end"><tspan letter-spacing="-0.13">SPASS-SCL</tspan><tspan dx="0"> 0.1</tspan></text>
<g stroke="#000" stroke-width="1" shape-rendering="crispEdges" fill="none">
<rect x="73.5" y="45.5" width="539" height="386"/>
</g>
<text x="63.8" y="435" text-anchor="end">0</text>
<text x="63.8" y="395" text-anchor="end">100</text>
<text x="63.8" y="355" text-anchor="end">200</text>
<text x="63.8" y="314" text-anchor="end">300</text>
<text x="63.8" y="274" text-anchor="end">400</text>
<text x="63.8" y="234" text-anchor="end">500</text>
<text x="63.8" y="194" text-anchor="end">600</text>
<text x="63.8" y="154" text-anchor="end">700</text>
<text x="63.8" y="113" text-anchor="end">800</text>
<text x="63.8" y="73" text-anchor="end">900</text>
<text x="126" y="450" text-anchor="middle">10</text>
<text x="182" y="450" text-anchor="middle">20</text>
<text x="238" y="450" text-anchor="middle">30</text>
<text x="294" y="450" text-anchor="middle">40</text>
<text x="350" y="450" text-anchor="middle">50</text>
<text x="406" y="450" text-anchor="middle">60</text>
<text x="462" y="450" text-anchor="middle">70</text>
<text x="519" y="450" text-anchor="middle">80</text>
<text x="575" y="450" text-anchor="middle">90</text>
<text x="342" y="27" text-anchor="middle">CPU EPUResults</text>
<text x="340.9" y="472" text-anchor="middle" letter-spacing="-0.1">Solution number</text>
<text transform="translate(17,238.2) rotate(-90)" text-anchor="middle">CPU time in seconds</text>
</svg></body></html>
